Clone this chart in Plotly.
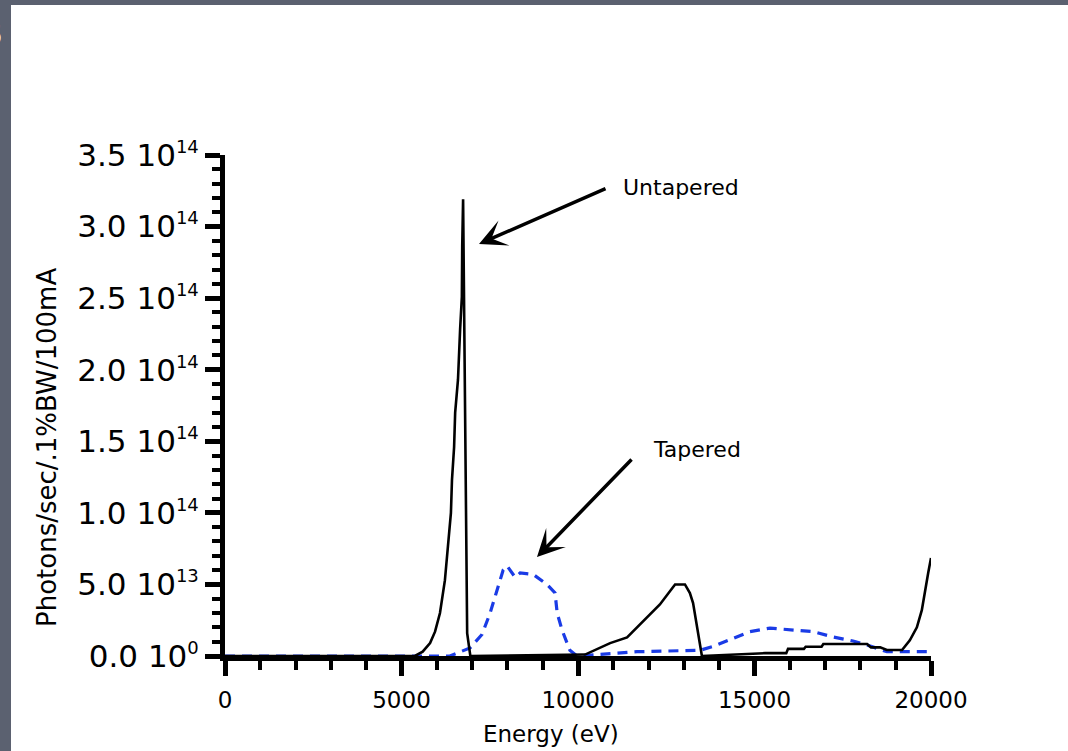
import numpy as np
import plotly.graph_objects as go

# ---- data (energy in eV, flux in units of 1e12 photons/sec/.1%BW/100mA) ----
untapered_energy = [0, 5380, 5600, 5810, 5950, 6090, 6230, 6320, 6400, 6430, 6490, 6520, 6600,
                    6660, 6710, 6720, 6745, 6860, 6950, 10200, 10540, 10910, 11390, 11840, 12320,
                    12690, 12750, 13030, 13170, 13260, 13370, 13510, 15300, 15900, 15950, 16400,
                    16450, 16900, 16950, 18190, 18300, 18560, 18750, 19180, 19400, 19600, 19740,
                    19830, 19920, 20000]
untapered_flux = [0, 0, 3, 9, 17, 30, 53, 76, 100, 123, 146, 170, 193,
                  228, 251, 286, 319, 16, 0, 1, 5, 9, 13, 24, 36,
                  48, 50, 50, 44, 37, 20, 0, 2, 2, 5, 5,
                  6.5, 6.5, 8.4, 8.4, 6, 6, 4.2, 4.2, 11, 20, 32,
                  46, 58, 68.5]

tapered_energy = [0, 6370, 6940, 7280, 7510, 7700, 7880, 7990, 8220, 8360, 8730, 9120, 9350,
                  9410, 9550, 9770, 9970, 11670, 13460, 13800, 14390, 14870, 15440, 16090,
                  16660, 17220, 17790, 18190, 18750, 19970]
tapered_flux = [0, 0, 5.6, 15, 30, 46, 60, 63, 55, 58, 57, 50, 44,
                30, 18, 4, 0, 3, 4, 6.5, 12.6, 17, 19.5, 18,
                17, 13.3, 10.5, 7.7, 3, 3]

y_tick_vals = [0, 5e13, 1e14, 1.5e14, 2e14, 2.5e14, 3e14, 3.5e14]
y_tick_mantissa = ["0.0", "5.0", "1.0", "1.5", "2.0", "2.5", "3.0", "3.5"]
y_tick_exponent = ["0", "13", "14", "14", "14", "14", "14", "14"]
x_tick_vals = [0, 5000, 10000, 15000, 20000]

scale = 1e12
FONT = "DejaVu Sans"
y_tick_text = [f"{m} 10<sup><span style='font-size:18px'>{e}</span></sup>"
               for m, e in zip(y_tick_mantissa, y_tick_exponent)]

fig = go.Figure()
fig.add_trace(go.Scatter(x=tapered_energy, y=np.array(tapered_flux) * scale, mode="lines",
                         line=dict(color="#1a3be6", width=3.2, dash="10px,7px"),
                         name="Tapered"))
fig.add_trace(go.Scatter(x=untapered_energy, y=np.array(untapered_flux) * scale, mode="lines",
                         line=dict(color="black", width=2.6), name="Untapered"))

W, H = 1068, 751
L, R, T, B = 225, 137, 155, 95
pw, ph = W - L - R, H - T - B


def px(xp):
    return (xp - L) / pw


def py(yp):
    return (H - B - yp) / ph


fig.update_layout(
    width=W, height=H,
    margin=dict(l=L, r=R, t=T, b=B, pad=0),
    paper_bgcolor="#5b6170",
    plot_bgcolor="white",
    showlegend=False,
    font=dict(family=FONT, color="black"),
    xaxis=dict(range=[0, 20000], tickvals=x_tick_vals, ticktext=[str(v) for v in x_tick_vals],
               showgrid=False, zeroline=False, showline=True, linewidth=5, linecolor="black",
               ticks="outside", ticklen=15, tickwidth=5, tickcolor="black",
               tickfont=dict(size=23, family=FONT, color="black"), ticklabelstandoff=4,
               minor=dict(dtick=1000, ticks="outside", ticklen=9, tickwidth=4, tickcolor="black"),
               fixedrange=True),
    yaxis=dict(range=[0, 3.5e14], tickvals=y_tick_vals, ticktext=y_tick_text,
               showgrid=False, zeroline=False, showline=True, linewidth=5, linecolor="black",
               ticks="outside", ticklen=15, tickwidth=5, tickcolor="black",
               tickfont=dict(size=31, family=FONT, color="black"),
               minor=dict(dtick=1e13, ticks="outside", ticklen=8, tickwidth=4, tickcolor="black"),
               fixedrange=True),
    shapes=[dict(type="rect", xref="paper", yref="paper", x0=px(11), x1=px(1080),
                 y0=py(770), y1=py(5), fillcolor="white", line=dict(width=0), layer="below")],
    annotations=[
        dict(text="Energy (eV)", xref="paper", yref="paper", x=px(551), y=py(734),
             xanchor="center", yanchor="middle", showarrow=False,
             font=dict(size=23, family=FONT, color="black")),
        dict(text="Photons/sec/.1%BW/100mA", xref="paper", yref="paper", x=px(47), y=py(448),
             xanchor="center", yanchor="middle", showarrow=False, textangle=-90,
             font=dict(size=26, family=FONT, color="black")),
        dict(text="Untapered", xref="paper", yref="paper", x=px(681), y=py(188),
             xanchor="center", yanchor="middle", showarrow=False,
             font=dict(size=22, family=FONT, color="black")),
        dict(text="Tapered", xref="paper", yref="paper", x=px(697), y=py(449),
             xanchor="center", yanchor="middle", showarrow=False,
             font=dict(size=22, family=FONT, color="black")),
        dict(text="", xref="paper", yref="paper", x=px(479), y=py(244), ax=128, ay=-56,
             showarrow=True, arrowhead=3, arrowsize=1.3, arrowwidth=3.5, arrowcolor="black",
             standoff=0, startstandoff=0),
        dict(text="", xref="paper", yref="paper", x=px(537), y=py(557), ax=96, ay=-99,
             showarrow=True, arrowhead=3, arrowsize=1.3, arrowwidth=3.5, arrowcolor="black",
             standoff=0, startstandoff=0),
        dict(text="<b>B</b>", xref="paper", yref="paper", x=px(5), y=py(33),
             xanchor="right", yanchor="middle", showarrow=False,
             font=dict(size=34, family=FONT, color="white")),
    ],
)

fig.write_html(
    "out.html",
    config={"displayModeBar": False},
    post_script="document.body.style.margin='0';document.body.style.background='#5b6170';"
                "document.body.style.overflow='hidden';",
)
